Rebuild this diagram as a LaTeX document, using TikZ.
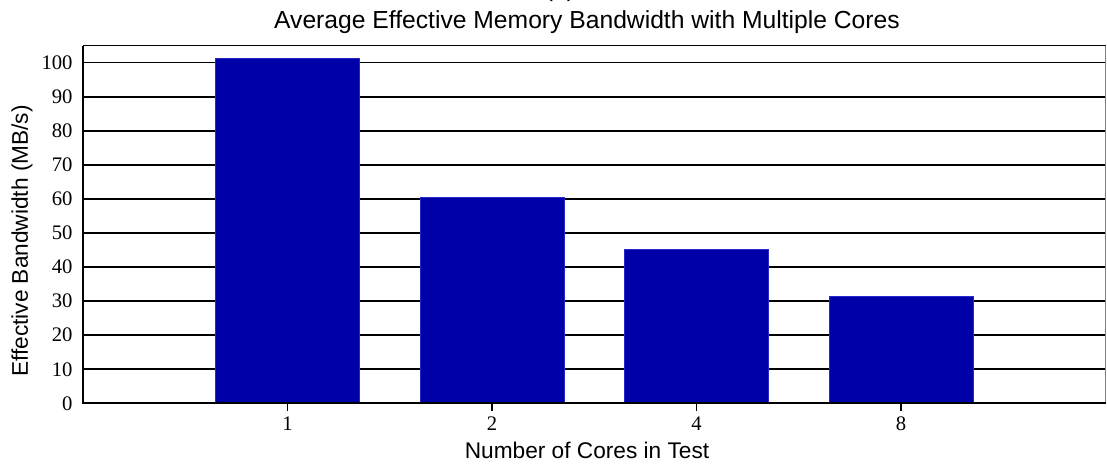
\documentclass[tikz,border=0pt]{standalone}
\usepackage{fontspec}
\setmainfont{Liberation Serif}
\setsansfont{Liberation Sans}
\usetikzlibrary{positioning}

\definecolor{barblue}{RGB}{0,0,168}
\definecolor{barline}{RGB}{40,40,200}

\tikzset{
  labeltext/.style={font=\sffamily\fontsize{17}{19}\selectfont},
  titletext/.style={font=\sffamily\fontsize{18.5}{21}\selectfont},
  ticktext/.style={font=\fontsize{15.5}{17}\selectfont, inner sep=0pt},
  gridline/.style={line width=1.2pt},
}

\begin{document}
\begin{tikzpicture}[x=0.75pt, y=0.75pt]

  \def\cellx{153.375pt}
  \def\celly{2.5545pt}
  \def\barw{0.705}

  \useasboundingbox (0,0) rectangle (1107,467);
  \clip (0,0) rectangle (1107,467);

  \node[titletext, anchor=base] (sub) at (560,470) {(a)};
  \node[titletext] (title) at (587,445) {Average Effective Memory Bandwidth with Multiple Cores};
  \node[labeltext] (xlab) at (587,17) {Number of Cores in Test};
  \node[labeltext, rotate=90] (ylab) at (22,226) {Effective Bandwidth (MB/s)};

  \begin{scope}[shift={(83,63.7)}, x=\cellx, y=\celly]

    % grid
    \foreach \y in {10,20,...,100} {
      \draw[gridline] (0,\y) -- (5,\y);
    }
    \foreach \y in {0,10,...,100} {
      \node[ticktext, anchor=east] (ytick\y) at (-0.05,\y) {\y};
    }

    % bars
    \foreach \v/\lab [count=\i] in {101.3/1, 60.6/2, 45.3/4, 31.5/8} {
      \fill[barblue, draw=barline, line width=0.4pt] (\i-\barw/2,0) rectangle (\i+\barw/2,\v);
      \draw[gridline] (\i,0) -- (\i,-2.4);
      \node[ticktext, anchor=north] (xtick\i) at (\i,-4) {\lab};
    }

    % frame
    \draw[gray, line width=0.6pt] (0,105) -- (5,105) -- (5,0);
    \draw[line width=1.2pt] (5,105) -- (0,105);
    \draw[line width=1.4pt] (0,105) -- (0,0) -- (5,0);
  \end{scope}
\end{tikzpicture}
\end{document}
